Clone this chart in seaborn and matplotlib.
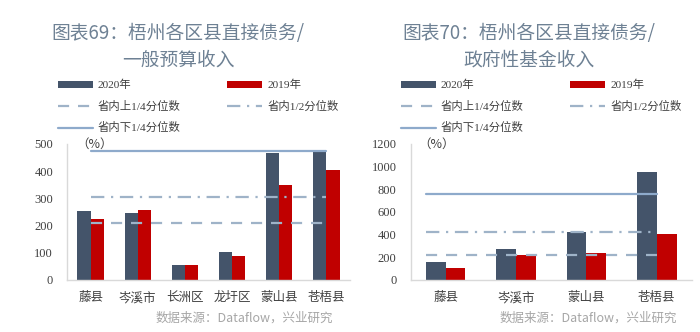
import matplotlib
matplotlib.use("Agg")
import matplotlib.pyplot as plt
import seaborn as sns
import pandas as pd
from matplotlib.patches import Patch
from matplotlib.lines import Line2D

# ---------------- data ----------------
regions_a = ["藤县", "岑溪市", "长洲区", "龙圩区", "蒙山县", "苍梧县"]
v2020_a = [253, 245, 54, 102, 467, 475]
v2019_a = [223, 257, 54, 87, 351, 403]
q_upper_a = 210    # 省内上1/4分位数
q_mid_a = 304      # 省内1/2分位数
q_lower_a = 475    # 省内下1/4分位数

regions_b = ["藤县", "岑溪市", "蒙山县", "苍梧县"]
v2020_b = [156, 274, 421, 956]
v2019_b = [109, 221, 241, 409]
q_upper_b = 224
q_mid_b = 426
q_lower_b = 762

years = ["2020年", "2019年"]
title_a = ["图表69：梧州各区县直接债务/", "一般预算收入"]
title_b = ["图表70：梧州各区县直接债务/", "政府性基金收入"]
legend_labels = ["2020年", "省内上1/4分位数", "省内下1/4分位数", "2019年", "省内1/2分位数"]
source_text = "数据来源：Dataflow，兴业研究"
yticks_a = [0, 100, 200, 300, 400, 500]
yticks_b = [0, 200, 400, 600, 800, 1000, 1200]

# ---------------- style ----------------
sns.set_style("white")
SERIF = ["Liberation Serif", "Noto Sans CJK SC"]
SANS = ["Noto Sans CJK SC", "DejaVu Sans"]
plt.rcParams["font.family"] = SERIF

NAVY = "#44546a"
RED = "#c00000"
LINE_C = "#9fb3c8"
SOLID_C = "#8eaacb"
TITLE_C = "#6e8194"
AXIS_C = "#d9d9d9"
TEXT_C = "#404040"
SRC_C = "#a6a6a6"

W, H = 700, 332
fig = plt.figure(figsize=(7.0, 3.32), dpi=100)


def fx(px):
    return px / W


def fy(py):
    return 1 - py / H


def panel(rect, regions, v20, v19, qu, qm, ql, yticks, line_start, title,
          title_cx, leg_x, pct_x, src_right):
    ax = fig.add_axes(rect)
    df = pd.DataFrame({
        "region": regions * 2,
        "year": [years[0]] * len(regions) + [years[1]] * len(regions),
        "value": list(v20) + list(v19),
    })
    sns.barplot(data=df, x="region", y="value", hue="year", order=regions,
                hue_order=years, palette=[NAVY, RED], width=0.56, gap=0,
                saturation=1, legend=False, ax=ax, linewidth=0)
    n = len(regions)
    xs = [line_start, n - 1]
    ax.plot(xs, [qu, qu], color=LINE_C, lw=1.6, ls=(0, (5, 4)), zorder=5)
    ax.plot(xs, [qm, qm], color=LINE_C, lw=1.6, ls=(0, (6, 3, 1, 3)), zorder=5)
    ax.plot(xs, [ql, ql], color=SOLID_C, lw=1.6, ls="-", zorder=5)

    ax.set_xlim(-0.5, n - 0.5)
    ax.set_ylim(yticks[0], yticks[-1])
    ax.set_yticks(yticks)
    ax.set_yticklabels([str(t) for t in yticks], fontsize=9, color=TEXT_C,
                       family=SERIF)
    ax.set_xticks(range(n))
    ax.set_xticklabels(regions, fontsize=9, color=TEXT_C, family=SANS)
    ax.set_xlabel("")
    ax.set_ylabel("")
    ax.tick_params(axis="y", length=3, color=AXIS_C, pad=7)
    ax.tick_params(axis="x", length=0, pad=8)
    for s in ["top", "right"]:
        ax.spines[s].set_visible(False)
    for s in ["left", "bottom"]:
        ax.spines[s].set_color(AXIS_C)
        ax.spines[s].set_linewidth(1)

    fig.text(fx(title_cx), fy(33), title[0], ha="center", va="center",
             fontsize=13.5, color=TITLE_C, family=SANS)
    fig.text(fx(title_cx), fy(60), title[1], ha="center", va="center",
             fontsize=13.5, color=TITLE_C, family=SANS)
    fig.text(fx(pct_x), fy(144), "（%）", ha="left", va="center",
             fontsize=9, color=TEXT_C, family=SANS)
    fig.text(fx(src_right), fy(318), source_text, ha="right", va="center",
             fontsize=9, color=SRC_C, family=SANS)

    handles = [
        Patch(facecolor=NAVY, edgecolor="none"),
        Line2D([], [], color=LINE_C, lw=1.6, ls=(0, (5, 4))),
        Line2D([], [], color=SOLID_C, lw=1.6),
        Patch(facecolor=RED, edgecolor="none"),
        Line2D([], [], color=LINE_C, lw=1.6, ls=(0, (6, 3, 1, 3))),
    ]
    fig.legend(handles, legend_labels, loc="upper left",
               bbox_to_anchor=(fx(leg_x), fy(80)), ncol=2, frameon=False,
               prop={"family": SERIF, "size": 8.2}, labelcolor=TEXT_C,
               handlelength=3.05, handleheight=0.5, handletextpad=0.44,
               columnspacing=4.1, labelspacing=0.9, borderpad=0,
               borderaxespad=0)
    return ax


panel([fx(67), fy(280), fx(350 - 67), fy(144) - fy(280)],
      regions_a, v2020_a, v2019_a, q_upper_a, q_mid_a, q_lower_a, yticks_a,
      0, title_a, 178, 58, 76, 333)
panel([fx(410.5), fy(280), fx(692 - 410.5), fy(144) - fy(280)],
      regions_b, v2020_b, v2019_b, q_upper_b, q_mid_b, q_lower_b, yticks_b,
      -0.28, title_b, 529, 401, 418, 677)

fig.savefig("out.png", dpi=100)
